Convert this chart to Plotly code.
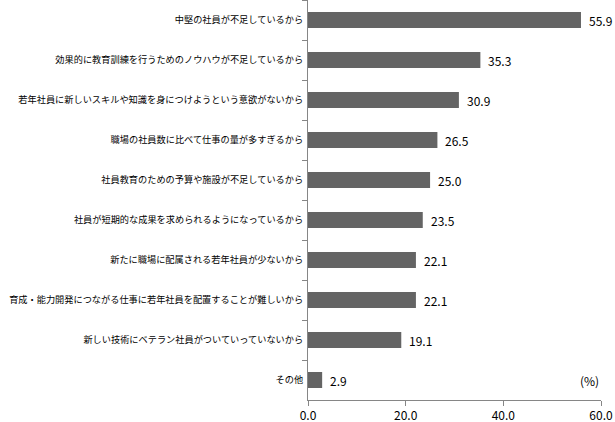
import plotly.graph_objects as go

categories = [
    "中堅の社員が不足しているから",
    "効果的に教育訓練を行うためのノウハウが不足しているから",
    "若年社員に新しいスキルや知識を身につけようという意欲がないから",
    "職場の社員数に比べて仕事の量が多すぎるから",
    "社員教育のための予算や施設が不足しているから",
    "社員が短期的な成果を求められるようになっているから",
    "新たに職場に配属される若年社員が少ないから",
    "育成・能力開発につながる仕事に若年社員を配置することが難しいから",
    "新しい技術にベテラン社員がついていっていないから",
    "その他",
]
values = [55.9, 35.3, 30.9, 26.5, 25.0, 23.5, 22.1, 22.1, 19.1, 2.9]
x_ticks = [0, 20, 40, 60]
x_tick_labels = ["0.0", "20.0", "40.0", "60.0"]

FONT = "Noto Sans CJK JP"

fig = go.Figure()
fig.add_trace(go.Bar(
    y=categories, x=values, orientation="h",
    marker=dict(color="#646464", line=dict(width=0)),
    width=0.4,
    hoverinfo="skip",
))

annotations = []
for c, v in zip(categories, values):
    annotations.append(dict(
        x=v, y=c, xref="x", yref="y", text=f"{v:.1f}",
        showarrow=False, xanchor="left", yanchor="middle", xshift=6,
        font=dict(family=FONT, size=12, color="#000000"),
    ))
annotations.append(dict(
    x=1.0, y=categories[-1], xref="paper", yref="y", text="(%)",
    showarrow=False, xanchor="right", yanchor="middle",
    font=dict(family=FONT, size=12, color="#000000"),
))

fig.update_layout(
    width=615, height=422,
    margin=dict(l=308, r=14, t=0, b=22, autoexpand=False),
    paper_bgcolor="white", plot_bgcolor="white",
    showlegend=False,
    font=dict(family=FONT, size=10, color="#000000"),
    annotations=annotations,
)
fig.update_xaxes(
    range=[0, 60], tickvals=x_ticks, ticktext=x_tick_labels,
    showgrid=False, zeroline=False, automargin=False,
    showline=True, linecolor="#868686", linewidth=1,
    ticks="outside", ticklen=5, tickcolor="#868686",
    tickfont=dict(family=FONT, size=12, color="#000000"),
)
fig.update_yaxes(
    categoryorder="array", categoryarray=categories,
    autorange="reversed", automargin=False,
    showgrid=False, zeroline=False,
    showline=True, linecolor="#868686", linewidth=1,
    ticks="outside", ticklen=5, tickcolor="#868686",
    tickson="boundaries", ticklabelstandoff=2,
    tickfont=dict(family=FONT, size=9.2, color="#000000"),
)

fig.write_html(
    "out.html",
    config={"displayModeBar": False},
    post_script="document.body.style.margin='0px';document.body.style.padding='0px';",
)
